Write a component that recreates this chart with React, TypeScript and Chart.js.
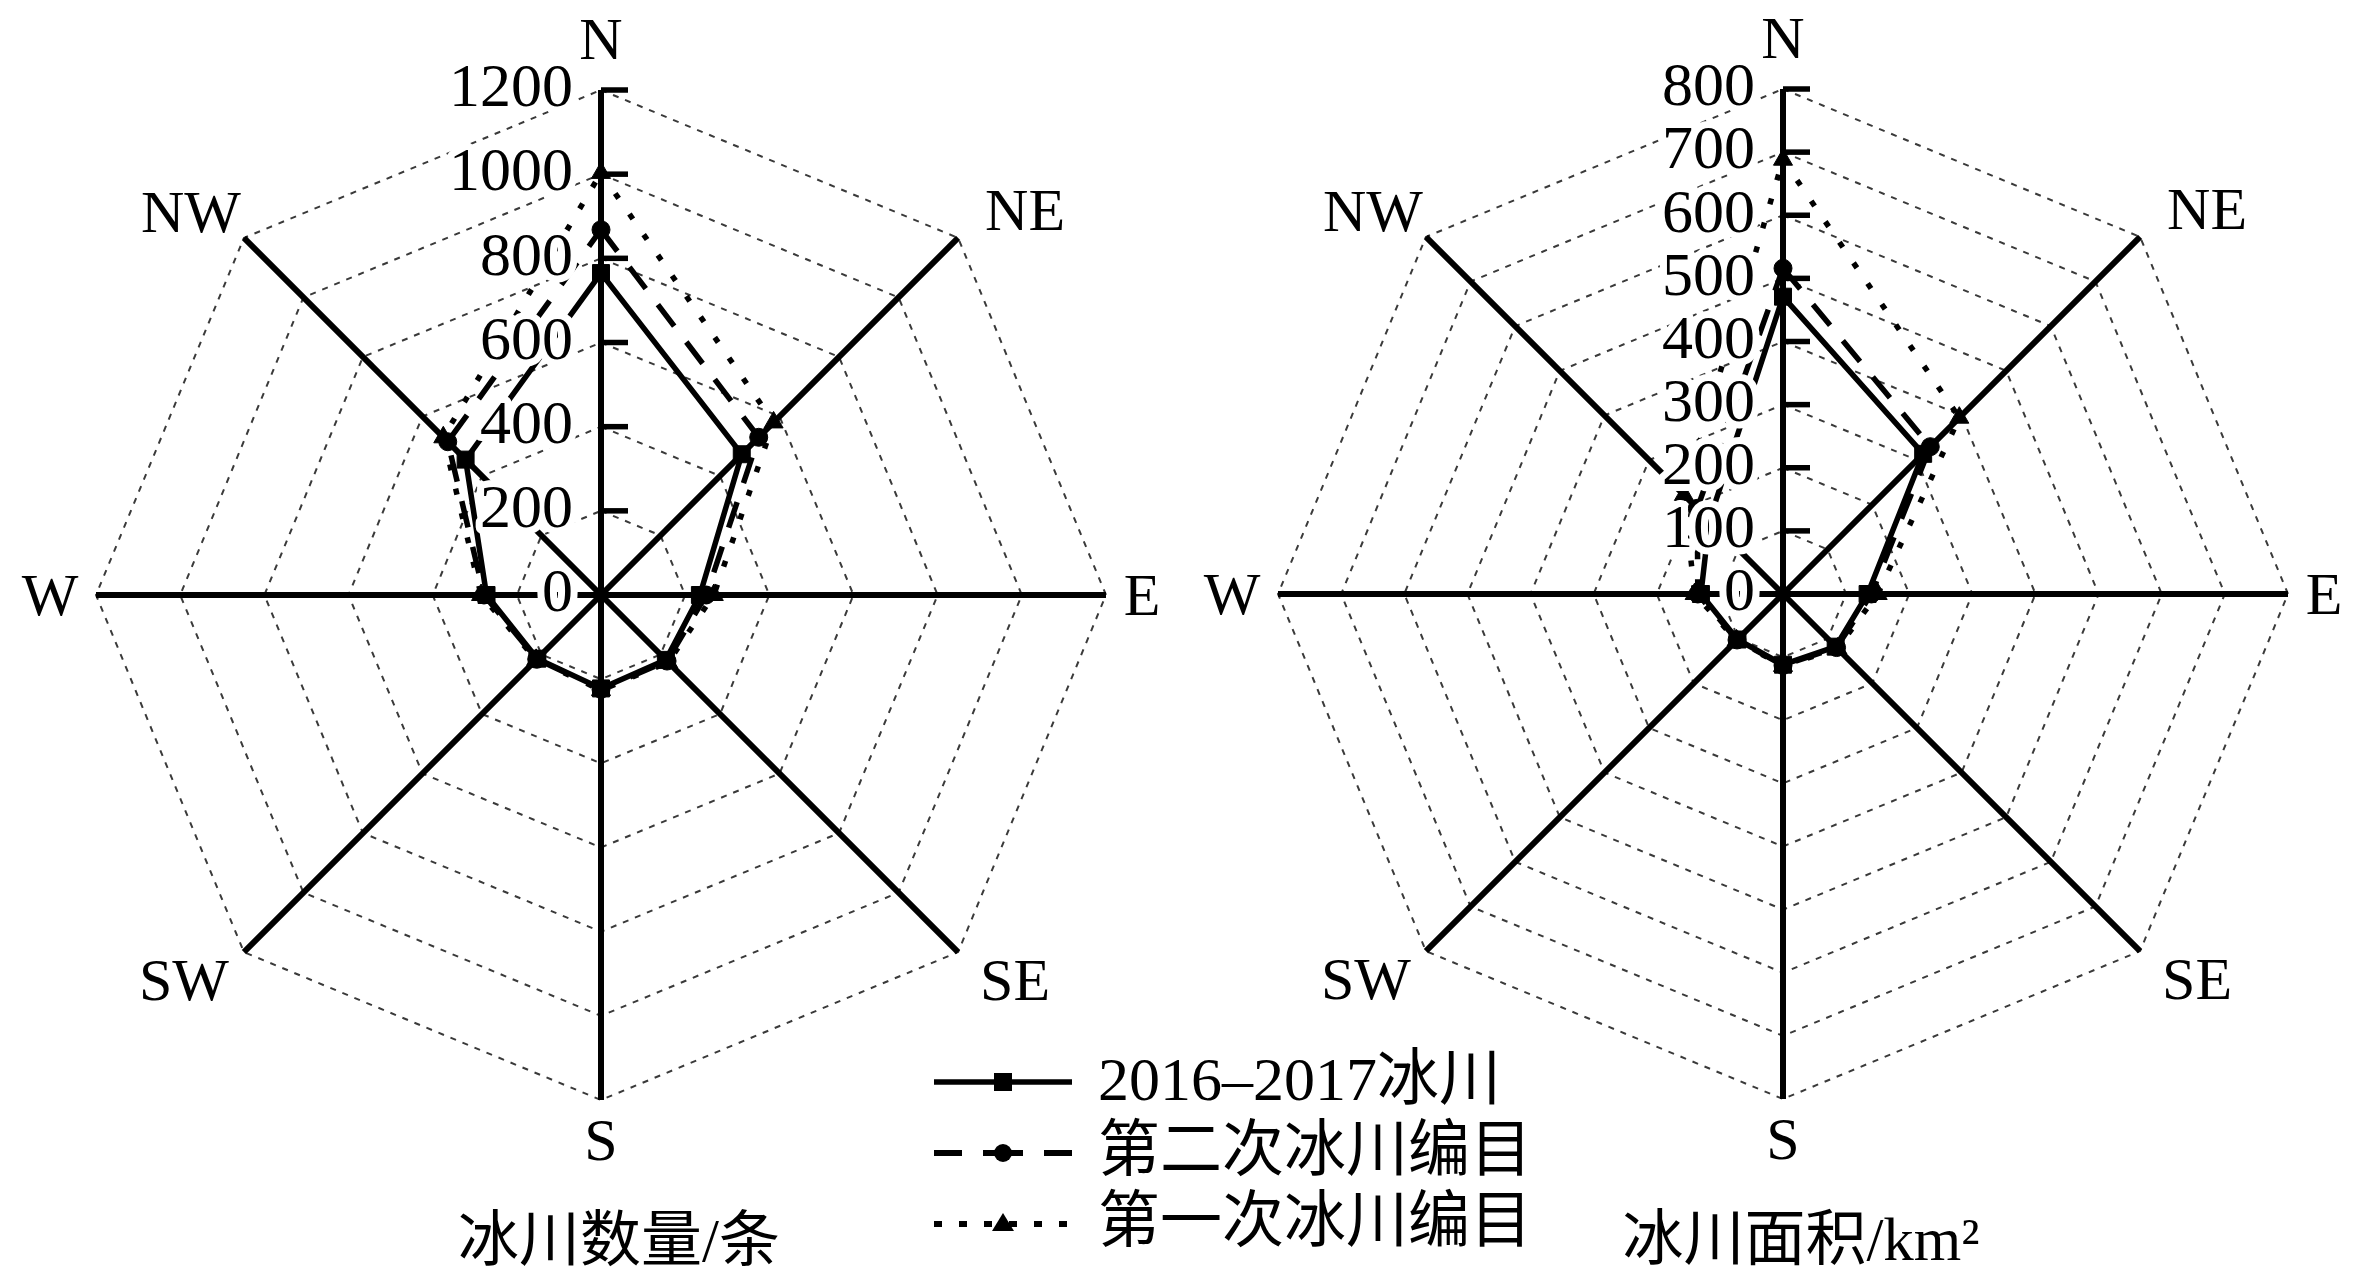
import React, { useEffect, useRef } from 'react';
import { Chart, registerables } from 'chart.js';

Chart.register(...registerables);

// ---------- data ----------
const directions = ['N', 'NE', 'E', 'SE', 'S', 'SW', 'W', 'NW'];
const seriesNames = ['2016–2017冰川', '第二次冰川编目', '第一次冰川编目'];

const countTickLabels = ['0', '200', '400', '600', '800', '1000', '1200'];
const count2016 = [765, 473, 235, 218, 222, 214, 272, 455];
const countSecond = [868, 530, 250, 222, 224, 216, 278, 515];
const countFirst = [1003, 580, 268, 226, 226, 218, 285, 530];

const areaTickLabels = ['0', '100', '200', '300', '400', '500', '600', '700', '800'];
const area2016 = [471, 314, 134, 118, 112, 102, 130, 165];
const areaSecond = [516, 330, 140, 120, 113, 103, 135, 192];
const areaFirst = [688, 395, 150, 122, 114, 104, 140, 222];

const countTitle = '冰川数量/条';
const areaTitle = '冰川面积/km²';

// ---------- styles ----------
const SERIF = '"Liberation Serif", "Times New Roman", serif';
const CJK = '"Liberation Serif", "Noto Sans CJK SC", serif';

const seriesStyles = [
  { dash: [] as number[], width: 5.5, pointStyle: 'rect', radius: 12 },
  { dash: [27, 20], width: 5.5, pointStyle: 'circle', radius: 9 },
  { dash: [6, 19], width: 5.5, pointStyle: 'triangle', radius: 11 },
];

// offsets of the direction labels from the outer end of each spoke
const dirOffsets: [number, number][] = [
  [0, -47], [67, -24], [36, 4], [57, 32], [0, 44], [-60, 32], [-46, 4], [-53, -22],
];

function makeOverlay(title: string) {
  return {
    id: 'radarOverlay',
    beforeDatasetsDraw(chart: any) {
      const s = chart.scales.r;
      const ctx = chart.ctx;
      ctx.save();
      ctx.strokeStyle = '#000';
      ctx.lineWidth = 5.5;
      ctx.setLineDash([]);
      s.ticks.forEach((t: any) => {
        if (t.value <= s.min) return;
        const y = s.yCenter - s.getDistanceFromCenterForValue(t.value);
        ctx.beginPath();
        ctx.moveTo(s.xCenter, y);
        ctx.lineTo(s.xCenter + 27, y);
        ctx.stroke();
      });
      ctx.restore();
    },
    afterDatasetsDraw(chart: any) {
      const s = chart.scales.r;
      const ctx = chart.ctx;
      ctx.save();
      ctx.setLineDash([]);
      ctx.font = `62px ${SERIF}`;
      ctx.textAlign = 'right';
      ctx.textBaseline = 'middle';
      ctx.lineJoin = 'round';
      s.ticks.forEach((t: any) => {
        const y = s.yCenter - s.getDistanceFromCenterForValue(t.value);
        const x = s.xCenter - 28;
        ctx.strokeStyle = '#fff';
        ctx.lineWidth = 14;
        ctx.strokeText(t.label, x, y);
        ctx.fillStyle = '#000';
        ctx.fillText(t.label, x, y);
      });
      ctx.font = `60px ${SERIF}`;
      ctx.textAlign = 'center';
      ctx.fillStyle = '#000';
      (chart.data.labels as string[]).forEach((lab, i) => {
        const p = s.getPointPosition(i, s.drawingArea);
        const [dx, dy] = dirOffsets[i];
        ctx.fillText(lab, p.x + dx, p.y + dy);
      });
      ctx.font = `61px ${CJK}`;
      ctx.fillText(title, s.xCenter + 18, s.yCenter + 650);
      ctx.restore();
    },
  };
}

type PanelProps = {
  series: number[][];
  tickLabels: string[];
  max: number;
  step: number;
  title: string;
  left: number;
  width: number;
  padding: { left: number; right: number; top: number; bottom: number };
};

function RadarPanel({ series, tickLabels, max, step, title, left, width, padding }: PanelProps) {
  const ref = useRef<HTMLCanvasElement | null>(null);
  useEffect(() => {
    if (!ref.current) return;
    const chart = new Chart(ref.current, {
      type: 'radar',
      data: {
        labels: directions,
        datasets: series.map((vals, k) => ({
          label: seriesNames[k],
          data: vals,
          borderColor: '#000',
          backgroundColor: 'rgba(0,0,0,0)',
          fill: false,
          borderWidth: seriesStyles[k].width,
          borderDash: seriesStyles[k].dash,
          pointStyle: seriesStyles[k].pointStyle as any,
          pointRadius: seriesStyles[k].radius,
          pointBackgroundColor: '#000',
          pointBorderColor: '#000',
          pointBorderWidth: 1,
          tension: 0,
        })),
      },
      options: {
        responsive: false,
        animation: false,
        devicePixelRatio: 1,
        layout: { padding },
        plugins: { legend: { display: false }, tooltip: { enabled: false } },
        scales: {
          r: {
            min: 0,
            max,
            startAngle: 0,
            ticks: {
              display: false,
              stepSize: step,
              callback: (_v: any, i: number) => tickLabels[i],
            },
            pointLabels: { display: false },
            grid: { color: '#3a3a3a', lineWidth: 2 } as any,
            border: { dash: [6, 7] } as any,
            angleLines: { color: '#000', lineWidth: 6 },
          },
        },
      } as any,
      plugins: [makeOverlay(title)],
    });
    return () => chart.destroy();
  }, []);
  return (
    <canvas
      ref={ref}
      width={width}
      height={1277}
      style={{ position: 'absolute', left, top: 0, width, height: 1277 }}
    />
  );
}

function Legend() {
  const ref = useRef<HTMLCanvasElement | null>(null);
  useEffect(() => {
    const c = ref.current;
    if (!c) return;
    const ctx = c.getContext('2d')!;
    ctx.clearRect(0, 0, c.width, c.height);
    const rows = [52, 123, 194];
    const legendDash = [[], [28, 27], [8, 17]];
    const x0 = 34, x1 = 172, xm = 103;
    seriesNames.forEach((name, k) => {
      const y = rows[k];
      ctx.save();
      ctx.strokeStyle = '#000';
      ctx.lineWidth = k === 0 ? 5.5 : 6;
      ctx.setLineDash(legendDash[k]);
      ctx.beginPath();
      ctx.moveTo(x0, y);
      ctx.lineTo(x1, y);
      ctx.stroke();
      ctx.setLineDash([]);
      ctx.fillStyle = '#000';
      if (k === 1) {
        ctx.fillRect(xm - 20, y - 3, 40, 6);
      }
      ctx.beginPath();
      if (k === 0) {
        ctx.rect(xm - 9, y - 9, 18, 18);
      } else if (k === 1) {
        ctx.arc(xm, y, 9, 0, Math.PI * 2);
      } else {
        ctx.moveTo(xm, y - 11);
        ctx.lineTo(xm + 11, y + 7);
        ctx.lineTo(xm - 11, y + 7);
        ctx.closePath();
      }
      ctx.fill();
      ctx.font = `62px ${CJK}`;
      ctx.textAlign = 'left';
      ctx.textBaseline = 'middle';
      ctx.fillText(name, 198, y + 2);
      ctx.restore();
    });
  }, []);
  return (
    <canvas
      ref={ref}
      width={700}
      height={240}
      style={{ position: 'absolute', left: 900, top: 1030, width: 700, height: 240 }}
    />
  );
}

export default function App() {
  return (
    <div
      style={{
        position: 'fixed',
        left: 0,
        top: 0,
        width: 2363,
        height: 1277,
        background: '#fff',
        overflow: 'hidden',
      }}
    >
      <RadarPanel
        series={[count2016, countSecond, countFirst]}
        tickLabels={countTickLabels}
        max={1200}
        step={200}
        title={countTitle}
        left={0}
        width={1190}
        padding={{ left: 96, right: 84, top: 90, bottom: 177 }}
      />
      <RadarPanel
        series={[area2016, areaSecond, areaFirst]}
        tickLabels={areaTickLabels}
        max={800}
        step={100}
        title={areaTitle}
        left={1190}
        width={1173}
        padding={{ left: 88, right: 75, top: 89, bottom: 178 }}
      />
      <Legend />
    </div>
  );
}
